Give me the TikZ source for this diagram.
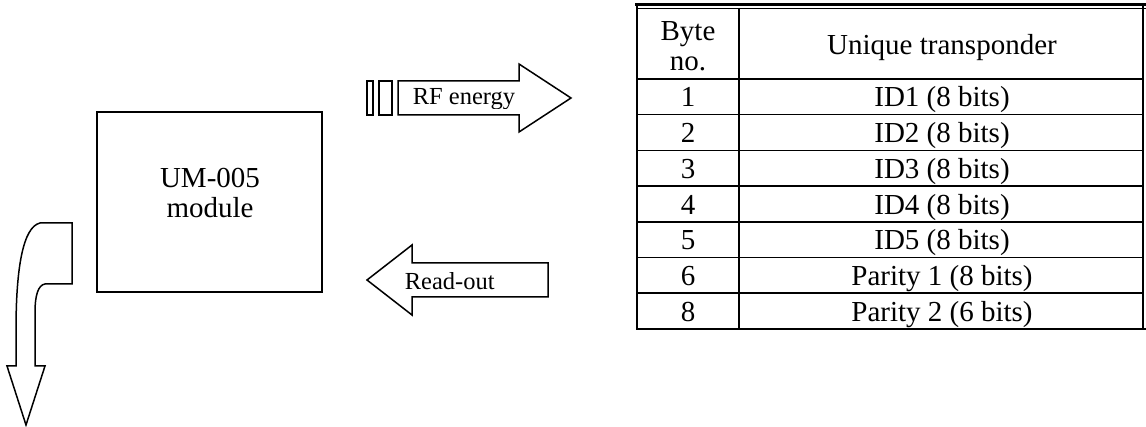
\documentclass[tikz,border=0pt]{standalone}
\usepackage{fontspec}
\setmainfont{Liberation Serif}
\usetikzlibrary{positioning}

\newcommand{\cellfont}{\fontsize{29}{30}\selectfont}
\newcommand{\tagfont}{\fontsize{24.5}{27}\selectfont}

\begin{document}
\begin{tikzpicture}[x=1pt,y=-1pt,line width=1.6pt,line join=miter,
            every node/.style={inner sep=0pt,font=\cellfont}]
        \tikzstyle{thin rule}=[line width=1.6pt]
        \tikzstyle{thick rule}=[line width=2.6pt]
        \tikzstyle{blockarrow}=[line width=1.5pt,fill=white]

        \useasboundingbox (0,0) rectangle (1146,427);

        % reader module
        \draw (97,112) rectangle (322,292);
        \node[align=center] (um) at (210,193) {UM-005\\module};

        % outgoing hook arrow
        \draw[blockarrow] (16,366) -- (16,330)
            .. controls (16,268) and (23,227) .. (40,223) -- (72,223) -- (72,284)
            -- (45,284) .. controls (38,285) and (35,296) .. (35,312)
            -- (35,366) -- (45,366) -- (26,425) -- (7,366) -- cycle;

        % RF energy
        \draw[blockarrow] (367,81) rectangle (373,115);
        \draw[blockarrow] (379,81) rectangle (392,115);
        \draw[blockarrow] (398,81) -- (519,81) -- (519,64) -- (571,98)
            -- (519,132) -- (519,115) -- (398,115) -- cycle;
        \begin{scope}
            \clip (399,82) rectangle (518,109);
            \node[anchor=base west,font=\tagfont] (rf) at (412,105) {RF energy};
        \end{scope}

        % read-out
        \draw[blockarrow] (548,263) -- (412,263) -- (412,245) -- (367,280)
            -- (412,315) -- (412,297) -- (548,297) -- cycle;
        \node[anchor=base west,font=\tagfont] (ro) at (404,290) {Read-out};

        % transponder table
        \draw[thick rule] (635,4.5) -- (1146,4.5);
        \draw[line width=1.2pt] (637,8.5) -- (1146,8.5);
        \draw[thick rule] (637,4) -- (637,330);
        \draw[thick rule] (1143,4) -- (1143,330);
        \draw[thick rule] (636,329) -- (1146,329);
        \draw[thin rule] (739,8) -- (739,329);

        \node[align=center] (byte) at (688,46) {Byte\\no.};
        \node[anchor=base] (uniq) at (942,55) {Unique transponder};

        \foreach \n/\b/\t in {1/1/ID1 (8 bits),2/2/ID2 (8 bits),3/3/ID3 (8 bits),
                4/4/ID4 (8 bits),5/5/ID5 (8 bits),6/6/Parity 1 (8 bits),
                7/8/Parity 2 (6 bits)} {
            \pgfmathsetmacro{\top}{79+(\n-1)*35.7}
            \draw[thin rule] (637,\top) -- (1143,\top);
            \node[anchor=base] (b\n) at (688,\top+28) {\b};
            \node[anchor=base] (v\n) at (942,\top+28) {\t};
        }
    \end{tikzpicture}
\end{document}
